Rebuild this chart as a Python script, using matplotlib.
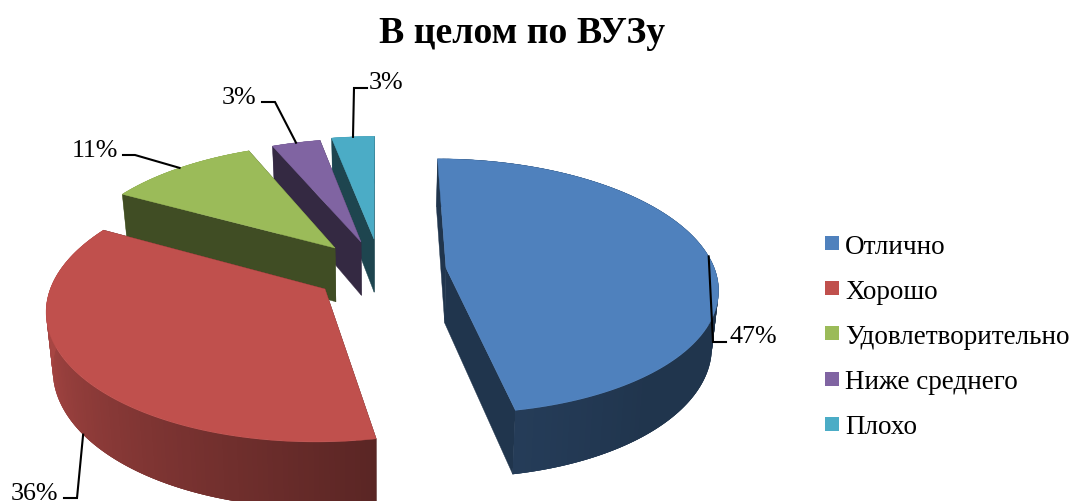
import numpy as np
import matplotlib
matplotlib.use('Agg')
import matplotlib.pyplot as plt
from matplotlib.colors import to_rgb
from matplotlib.patches import Polygon, Rectangle

# Данные
categories = ['Отлично', 'Хорошо', 'Удовлетворительно', 'Ниже среднего', 'Плохо']
shares = [47, 36, 10.6, 3.4, 3]
colors = ['#4f81bd', '#c0504d', '#9bbb59', '#8064a2', '#4bacc6']
title = 'В целом по ВУЗу'

# Положение вершин секторов на картинке (после выдвижения)
apex_x = [446, 325, 335, 361, 374]
apex_y = [269, 290, 249, 243, 240]

# Перспектива: точка схода, глубина плоскости, радиус, толщина
HX, HY = 378, -610
K_DEPTH = 6196
K_RADIUS = 268 / 878
THICK = 0.0626
SHRINK = 0.02
VX = 380

# Ломаные выносок: излом и конец, затем положение подписи
leader_mid = [(713, 343), (77, 499), (135, 156), (275, 103), (354, 89)]
leader_end = [(726, 343), (64, 499), (123, 156), (262, 103), (367, 89)]
label_pos = [(730, 343, 'left'), (58, 500, 'right'), (118, 157, 'right'),
             (256, 104, 'right'), (369, 89, 'left')]
FONT = 'Liberation Serif'


def top_point(i, theta):
    d = apex_y[i] - HY
    w = 1 + d / K_DEPTH * np.cos(theta)
    x = HX + (apex_x[i] - HX + K_RADIUS * d * np.sin(theta)) / w
    y = HY + d / w
    return x, y


def lower(x, y):
    return x + (VX - x) * SHRINK, y + (y - HY) * THICK


def wall_shade(deg):
    return np.interp(deg, [90, 140, 169, 260, 360], [0.41, 0.41, 0.47, 0.87, 0.87])


fig = plt.figure(figsize=(10.69, 5.02), dpi=100)
ax = fig.add_axes([0, 0, 1, 1])
ax.set_xlim(0, 1069)
ax.set_ylim(502, 0)
ax.axis('off')

edges = np.cumsum([0] + shares) / sum(shares) * 2 * np.pi
cut_shade = [0.41, 0.41, 0.41, 0.41, 0.40]


def draw_slice(i):
    base = np.array(to_rgb(colors[i]))
    theta = np.linspace(edges[i], edges[i + 1], 140)
    tx, ty = top_point(i, theta)
    bx, by = lower(tx, ty)
    ax0, ay0 = apex_x[i], apex_y[i]
    bx0, by0 = lower(ax0, ay0)

    def rim(front):
        # полоски внахлёст, чтобы на градиенте не было швов
        n = len(theta) - 1
        for j in range(n):
            if (np.cos(theta[j]) <= 0) != front:
                continue
            e = min(j + 3, n)
            c = base * wall_shade(np.degrees(theta[j]))
            ax.add_patch(Polygon([(tx[j], ty[j])] + list(zip(tx[j + 1:e + 1], ty[j + 1:e + 1]))
                                 + list(zip(bx[j + 1:e + 1], by[j + 1:e + 1]))[::-1] + [(bx[j], by[j])],
                                 facecolor=c, edgecolor='none'))

    rim(False)
    c = base * cut_shade[i]
    for k in (0, -1):
        ax.add_patch(Polygon([(ax0, ay0), (tx[k], ty[k]), (bx[k], by[k]), (bx0, by0)],
                             facecolor=c, edgecolor=c, lw=0.3))
    rim(True)
    ax.add_patch(Polygon(np.vstack([[ax0, ay0], np.column_stack([tx, ty])]),
                         facecolor=base, edgecolor=base, lw=0.3))


# Сзади вперёд
for i in [4, 3, 2, 0, 1]:
    draw_slice(i)

# Выноски и подписи
for i in range(len(shares)):
    mid = (edges[i] + edges[i + 1]) / 2
    sx, sy = top_point(i, mid)
    if i == 1:  # у красного сектора выноска идёт от нижней кромки
        sx, sy = lower(sx, sy)
    ax.plot([sx, leader_mid[i][0], leader_end[i][0]],
            [sy, leader_mid[i][1], leader_end[i][1]],
            color='black', lw=1.5, solid_joinstyle='miter', zorder=5)
    lx, ly, ha = label_pos[i]
    ax.text(lx, ly, f'{round(shares[i])}%', family=FONT, fontsize=18.7,
            ha=ha, va='baseline', color='black', zorder=6)

ax.text(522, 43, title, family=FONT, fontsize=27.2, fontweight='bold',
        ha='center', va='baseline', color='black')

# Легенда
for i, name in enumerate(categories):
    ax.add_patch(Rectangle((825, 237 + 45.2 * i), 14, 14, facecolor=colors[i], edgecolor='none'))
    ax.text(845, 254 + 45 * i, name, family=FONT, fontsize=19.5, ha='left', va='baseline', color='black')

plt.savefig('out.png', dpi=100, facecolor='white')
plt.close()
